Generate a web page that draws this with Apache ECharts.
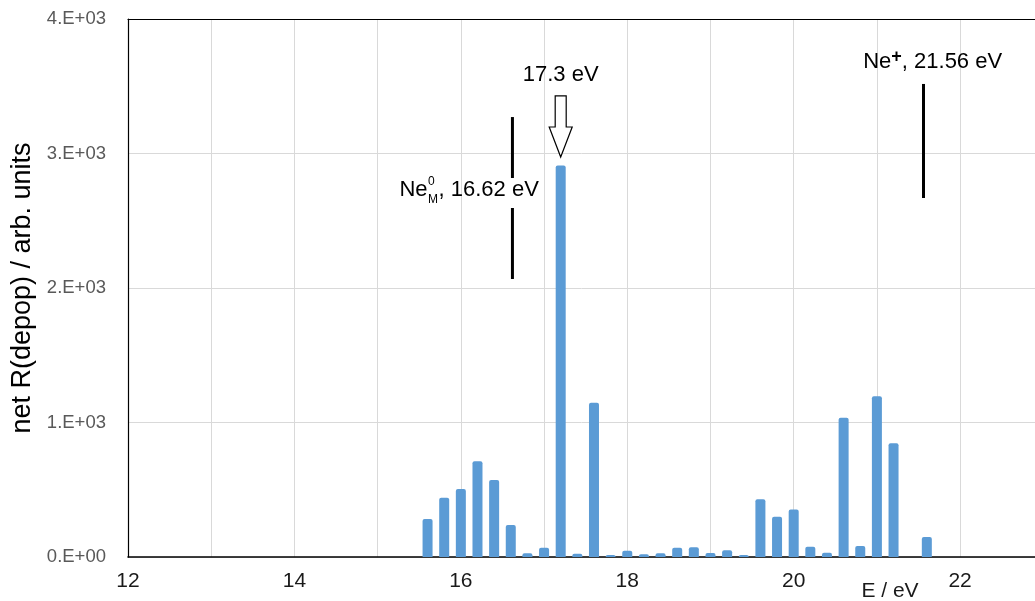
<!DOCTYPE html>
<html>
<head>
<meta charset="utf-8">
<script src="https://cdn.jsdelivr.net/npm/echarts@6/dist/echarts.min.js"></script>
<style>
html,body{margin:0;padding:0;background:#fff;overflow:hidden;}
#chart{width:1035px;height:601px;}
</style>
</head>
<body>
<div id="chart"></div>
<script>
// ---- data ----
const energies = [15.6,15.8,16.0,16.2,16.4,16.6,16.8,17.0,17.2,17.4,17.6,17.8,18.0,18.2,18.4,18.6,18.8,19.0,19.2,19.4,19.6,19.8,20.0,20.2,20.4,20.6,20.8,21.0,21.2,21.4,21.6];
const depop    = [282,440,506,712,573,238,28,69,2910,25,1147,15,47,21,27,69,72,30,50,15,429,300,354,77,32,1036,82,1195,845,0,149];
const yTickLabels = ['0.E+00','1.E+03','2.E+03','3.E+03','4.E+03'];
const xTickLabels = ['12','14','16','18','20','22'];
// annotation values (data coordinates)
const neMEnergy = 16.62;          // Ne_M^0
const neMLineSegments = [[3271,2818],[2595,2067]];
const nePlusEnergy = 21.56;       // Ne+
const nePlusLine = [3517,2669];
const arrowEnergy = 17.2;
const arrowLevels = [3428,3197,2974]; // top, neck, tip

const chart = echarts.init(document.getElementById('chart'));
const FONT = '"Liberation Sans", Arial, Helvetica, sans-serif';
const X_MIN = 12, X_MAX = 22.9;
chart.setOption({
  animation:false,
  grid:{left:128,top:19,right:0,bottom:44,show:false},
  xAxis:[{
    type:'value',min:X_MIN,max:X_MAX,interval:1,
    axisLine:{show:true,onZero:false,lineStyle:{color:'#000',width:1.6}},
    axisTick:{show:false},
    splitLine:{show:true,showMinLine:false,showMaxLine:false,lineStyle:{color:'#d9d9d9',width:1}},
    axisLabel:{
      fontFamily:FONT,fontSize:21,color:'#1a1a1a',margin:14,showMaxLabel:false,
      formatter:function(v){
        const s=String(Math.round(v));
        return (Math.abs(v-Math.round(v))<1e-6 && xTickLabels.indexOf(s)>=0)?s:'';
      }
    }
  },{
    type:'value',position:'top',min:X_MIN,max:X_MAX,
    axisLine:{show:true,onZero:false,lineStyle:{color:'#000',width:1.2}},
    axisTick:{show:false},axisLabel:{show:false},splitLine:{show:false}
  }],
  yAxis:{
    type:'value',min:0,max:4000,interval:1000,
    name:'net R(depop) / arb. units',nameLocation:'middle',nameGap:91,
    nameTextStyle:{fontFamily:FONT,fontSize:27,color:'#000'},
    axisLine:{show:true,lineStyle:{color:'#000',width:1.2}},
    axisTick:{show:false},
    splitLine:{show:true,lineStyle:{color:'#d9d9d9',width:1}},
    axisLabel:{
      fontFamily:FONT,fontSize:18.5,color:'#595959',margin:22,
      formatter:function(v){return yTickLabels[Math.round(v/1000)];}
    }
  },
  series:[{
    type:'bar',
    xAxisIndex:0,
    data:energies.map((e,i)=>[e,depop[i]]),
    barWidth:10,
    itemStyle:{color:'#5B9BD5',borderRadius:[2,2,0,0]}
  }]
});

const mctx=document.createElement('canvas').getContext('2d');
function measure(t,f){mctx.font=f;return mctx.measureText(t).width;}
function px(x,y){return chart.convertToPixel({xAxisIndex:0,yAxisIndex:0},[x,y]);}
const g=[];
const F22='22px '+FONT;
// Ne_M^0 line segments
neMLineSegments.forEach(s=>{
  const a=px(neMEnergy,s[0]), b=px(neMEnergy,s[1]);
  g.push({type:'line',shape:{x1:a[0],y1:a[1],x2:b[0],y2:b[1]},style:{stroke:'#000',lineWidth:3}});
});
// Ne+ line
{
  const a=px(nePlusEnergy,nePlusLine[0]), b=px(nePlusEnergy,nePlusLine[1]);
  g.push({type:'line',shape:{x1:a[0],y1:a[1],x2:b[0],y2:b[1]},style:{stroke:'#000',lineWidth:3}});
}
// hollow arrow
{
  const t=px(arrowEnergy,arrowLevels[0]), n=px(arrowEnergy,arrowLevels[1]), p=px(arrowEnergy,arrowLevels[2]);
  const cx=t[0], sw=5.5, hw=11.5;
  g.push({type:'polygon',shape:{points:[[cx-sw,t[1]],[cx+sw,t[1]],[cx+sw,n[1]],[cx+hw,n[1]],[cx,p[1]],[cx-hw,n[1]],[cx-sw,n[1]]]},
    style:{fill:'#fff',stroke:'#000',lineWidth:1.2}});
  const lt=px(arrowEnergy,3584);
  g.push({type:'text',x:lt[0],y:lt[1],style:{text:'17.3 eV',font:F22,fill:'#000',align:'center',verticalAlign:'middle'}});
}
// Ne_M^0 label (right aligned)
{
  const p=px(16.937,2729);
  const FS='12px '+FONT;
  const w1=measure('Ne',F22), ws=Math.max(measure('0',FS),measure('M',FS)), w2=measure(', 16.62 eV',F22);
  const x0=p[0]-(w1+ws+1+w2), yc=p[1];
  g.push({type:'text',x:x0,y:yc,style:{text:'Ne',font:F22,fill:'#000',align:'left',verticalAlign:'middle'}});
  g.push({type:'text',x:x0+w1+0.5,y:yc-8,style:{text:'0',font:FS,fill:'#000',align:'left',verticalAlign:'middle'}});
  g.push({type:'text',x:x0+w1+0.5,y:yc+10,style:{text:'M',font:FS,fill:'#000',align:'left',verticalAlign:'middle'}});
  g.push({type:'text',x:x0+w1+ws+1,y:yc,style:{text:', 16.62 eV',font:F22,fill:'#000',align:'left',verticalAlign:'middle'}});
}
// Ne+ label (centered)
{
  const p=px(21.67,3680);
  const FP='bold 18px '+FONT;
  const w1=measure('Ne',F22), ws=measure('+',FP), w2=measure(', 21.56 eV',F22);
  const x0=p[0]-(w1+ws+w2)/2, yc=p[1];
  g.push({type:'text',x:x0,y:yc,style:{text:'Ne',font:F22,fill:'#000',align:'left',verticalAlign:'middle'}});
  g.push({type:'text',x:x0+w1,y:yc-5,style:{text:'+',font:FP,fill:'#000',align:'left',verticalAlign:'middle'}});
  g.push({type:'text',x:x0+w1+ws,y:yc,style:{text:', 21.56 eV',font:F22,fill:'#000',align:'left',verticalAlign:'middle'}});
}
// x axis name
g.push({type:'text',x:890,y:591,style:{text:'E / eV',font:'21px '+FONT,fill:'#1a1a1a',align:'center',verticalAlign:'middle'}});
chart.setOption({graphic:g});
</script>
</body>
</html>
